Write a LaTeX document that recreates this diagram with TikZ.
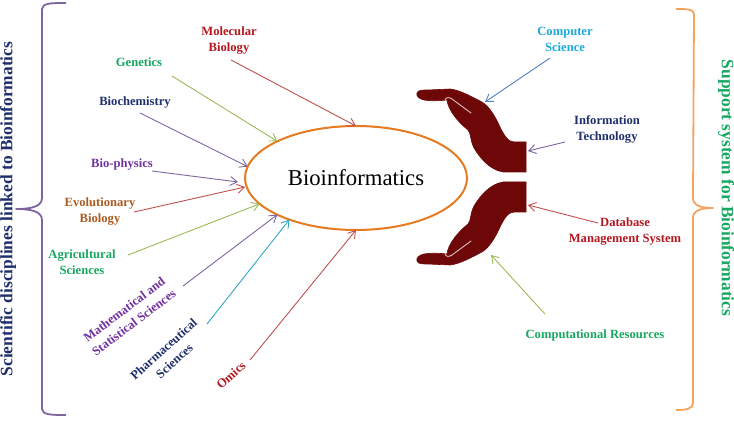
\documentclass[tikz,border=0pt]{standalone}
\usepackage{fontspec}
\setmainfont{Liberation Serif}
\usetikzlibrary{arrows.meta,calc,shapes.geometric}
\definecolor{cgreen}{HTML}{16A860}
\definecolor{cred}{HTML}{B5161E}
\definecolor{cnavy}{HTML}{1F2F6B}
\definecolor{cpurple}{HTML}{7030A0}
\definecolor{cbrown}{HTML}{A85A20}
\definecolor{ccyan}{HTML}{1CA8D8}
\definecolor{lred}{HTML}{C0504D}
\definecolor{lolive}{HTML}{9BBB59}
\definecolor{lpurple}{HTML}{8064A2}
\definecolor{lblue}{HTML}{4F81BD}
\definecolor{lteal}{HTML}{2FA8C4}
\definecolor{hand}{HTML}{6E0808}
\definecolor{eorange}{HTML}{E57A20}
\definecolor{bpurple}{HTML}{7F659F}
\definecolor{borange}{HTML}{F4A460}
\tikzset{
  lab/.style={font=\bfseries\fontsize{12.6}{16}\selectfont,align=center,inner sep=0pt},
  arr/.style={-{Straight Barb[length=7pt,width=9pt]},line width=0.9pt},
  handshape/.style={fill=hand,draw=hand,line width=0.6pt},
  thumbline/.style={draw=hand!25!white,line width=0.9pt,line cap=round},
  bracel/.style={line width=1.8pt,line join=round},
  sidetitle/.style={font=\bfseries\fontsize{17.4}{20}\selectfont,inner sep=0pt}
}
\begin{document}
\begin{tikzpicture}[x=1pt,y=-1pt]
\useasboundingbox (0,0) rectangle (734,422);
% hub
\node[draw=eorange,line width=2pt,ellipse,minimum width=222pt,minimum height=104pt,inner sep=0pt,outer sep=0pt,font=\fontsize{22.7}{26}\selectfont] (bio) at (356,178) {Bioinformatics};
% labels
\node[lab,text=cred] (mol) at (229,41) {Molecular\\Biology};
\node[lab,text=cgreen] (gen) at (139,62) {Genetics};
\node[lab,text=cnavy] (bch) at (135,102) {Biochemistry};
\node[lab,text=cpurple] (bph) at (122,164) {Bio-physics};
\node[lab,text=cbrown] (evo) at (100,212) {Evolutionary\\Biology};
\node[lab,text=cgreen] (agr) at (82,262) {Agricultural\\Sciences};
\node[lab,text=cpurple,rotate=37] (mat) at (129,316) {Mathematical and\\Statistical Sciences};
\node[lab,text=cnavy,rotate=42] (pha) at (169,355) {Pharmaceutical\\Sciences};
\node[lab,text=cred,rotate=42] (omi) at (231,375) {Omics};
\node[lab,text=ccyan] (com) at (565,39) {Computer\\Science};
\node[lab,text=cnavy] (inf) at (607,129) {Information\\Technology};
\node[lab,text=cred] (dbm) at (625,232) {Database\\Management System};
\node[lab,text=cgreen] (cmp) at (595,335) {Computational Resources};
% side titles
\node[sidetitle,text=cnavy,rotate=90] (ltitle) at (8,209) {Scientific disciplines linked to Bioinformatics};
\node[sidetitle,text=cgreen,rotate=-90] (rtitle) at (726,188) {Support system for Bioinformatics};
% braces
\draw[bracel,bpurple] (66,3) .. controls (52,3) and (42,3) .. (42,9) -- (42,198) .. controls (42,207) and (30,209) .. (16,209) .. controls (30,209) and (42,211) .. (42,220) -- (42,409) .. controls (42,415) and (52,415) .. (66,415);
\draw[bracel,borange] (676,9) .. controls (686,9) and (694,9) .. (694,14) -- (693,198) .. controls (693,205) and (700,208) .. (713,208) .. controls (700,208) and (693,211) .. (693,218) -- (693,403) .. controls (693,409) and (686,410) .. (676,410);
% hands
\draw[handshape] (417,93) .. controls (418,90) and (422,90) .. (428,90) -- (450,89) .. controls (460,90) and (472,97) .. (482,102)
  .. controls (490,107) and (496,118) .. (500,127) .. controls (504,135) and (508,142) .. (514,142)
  -- (526,142) -- (526,172) -- (503,172) .. controls (490,170) and (480,158) .. (474,148)
  .. controls (470,140) and (471,133) .. (468,130) .. controls (458,122) and (448,110) .. (447,100)
  .. controls (438,101) and (430,101) .. (424,100) .. controls (419,99) and (416,96) .. (417,93) -- cycle;
\draw[thumbline] (445,100) .. controls (446,97) and (449,97) .. (452,99) -- (471,113);
\draw[handshape] (417,261) .. controls (418,264) and (422,264) .. (428,264) -- (450,265) .. controls (460,264) and (472,257) .. (482,252)
  .. controls (490,247) and (496,236) .. (500,227) .. controls (504,219) and (508,212) .. (514,212)
  -- (526,212) -- (526,182) -- (503,182) .. controls (490,184) and (480,196) .. (474,206)
  .. controls (470,214) and (471,221) .. (468,224) .. controls (458,232) and (448,244) .. (447,254)
  .. controls (438,253) and (430,253) .. (424,254) .. controls (419,255) and (416,258) .. (417,261) -- cycle;
\draw[thumbline] (445,254) .. controls (446,257) and (449,257) .. (452,255) -- (471,241);
% connector ends
\coordinate (s1) at (231,60); \coordinate (s2) at (172,76); \coordinate (s3) at (140,113);
\coordinate (s4) at (152,171); \coordinate (s5) at (134,212); \coordinate (s6) at (128,255);
\coordinate (s7) at (183,286); \coordinate (s8) at (207,324); \coordinate (s9) at (250,360);
\coordinate (s10) at (550,58); \coordinate (s11) at (565,142); \coordinate (s12) at (598,223); \coordinate (s13) at (545,314);
\coordinate (t4) at (238,182); \coordinate (t5) at (245,187);
\coordinate (t10) at (485,102); \coordinate (t11) at (528,151); \coordinate (t12) at (528,205); \coordinate (t13) at (491,255);
\draw[arr,lred] (s1) -- (bio.90);
\draw[arr,lolive] (s2) -- (bio.155);
\draw[arr,lpurple] (s3) -- (bio.174);
\draw[arr,lpurple] (s4) -- (t4);
\draw[arr,lred] (s5) -- (t5);
\draw[arr,lolive] (s6) -- (bio.195.5);
\draw[arr,lpurple] (s7) -- (bio.205.4);
\draw[arr,lteal] (s8) -- (bio.212);
\draw[arr,lred] (s9) -- (bio.270);
\draw[arr,lblue] (s10) -- (t10);
\draw[arr,lpurple] (s11) -- (t11);
\draw[arr,lred] (s12) -- (t12);
\draw[arr,lolive] (s13) -- (t13);
\end{tikzpicture}
\end{document}
